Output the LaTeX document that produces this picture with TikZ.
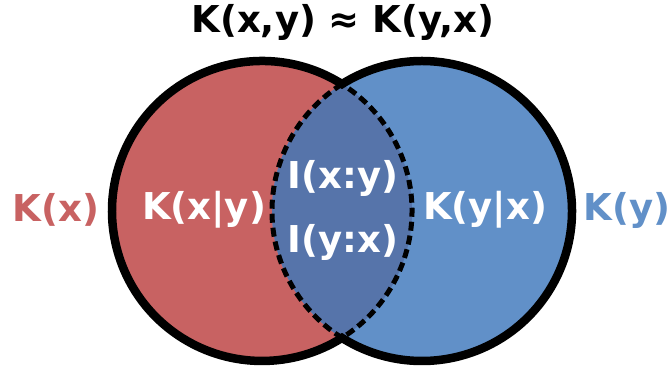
\documentclass[tikz,border=0pt]{standalone}
\usepackage{fontspec}
\setmainfont{DejaVu Sans}
\definecolor{setred}{RGB}{200,98,98}
\definecolor{setblue}{RGB}{97,144,200}
\definecolor{setboth}{RGB}{86,116,170}

\begin{document}
\begin{tikzpicture}[
    x=1pt, y=1pt,
    label text/.style={font=\fontsize{37}{44}\bfseries, inner sep=0pt},
    outer line/.style={line width=8.5pt, line join=miter},
    inner line/.style={line width=5pt, dash pattern=on 9pt off 5pt}
]
\useasboundingbox (0,0) rectangle (669,372);
\coordinate (cx) at (262,161);
\coordinate (cy) at (422,161);
% filled sets
\fill[setred] (cx) circle (150);
\fill[setblue] (cy) circle (150);
\begin{scope}
    \clip (cx) circle (150);
    \fill[setboth] (cy) circle (150);
\end{scope}
% borders
\draw[outer line] (342,287.9) arc[start angle=57.77, end angle=302.23, radius=150]
    arc[start angle=237.77, end angle=482.23, radius=150] -- cycle;
\draw[inner line] (342,287.9) arc[start angle=122.23, end angle=237.77, radius=150]
    arc[start angle=-57.77, end angle=57.77, radius=150] -- cycle;
% labels
\node[label text] (title) at (343,350) {K(x,y) ≈ K(y,x)};
\node[label text, text=setred] (kx) at (56,162) {K(x)};
\node[label text, text=setblue] (ky) at (627,162) {K(y)};
\node[label text, text=white] (kxgy) at (204,162) {K(x|y)};
\node[label text, text=white] (kygx) at (485,162) {K(y|x)};
\node[label text, text=white] (ixy) at (343,194) {I(x:y)};
\node[label text, text=white] (iyx) at (343,130) {I(y:x)};
\end{tikzpicture}
\end{document}
